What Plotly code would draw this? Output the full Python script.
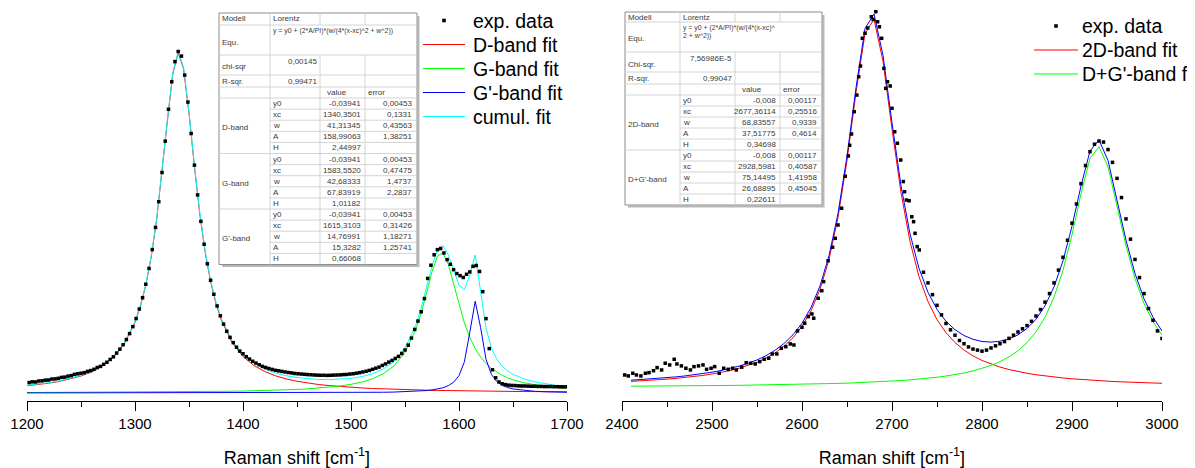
import plotly.graph_objects as go

# ---------------- data: left panel (D / G / G' region) ----------------
L_DATA_X = [1202,1205,1208,1211,1214,1217,1220,1223,1226,1229,1232,1235,1238,1241,1244,1247,1250,1253,1256,1259,
            1262,1265,1268,1271,1274,1277,1280,1283,1286,1289,1292,1295,1298,1301,1304,1307,1310,1313,1316,1319,
            1322,1325,1328,1331,1334,1337,1340,1343,1346,1349,1352,1355,1358,1361,1364,1367,1370,1373,1376,1379,
            1382,1385,1388,1391,1394,1397,1400,1403,1406,1409,1412,1415,1418,1421,1424,1427,1430,1433,1436,1439,
            1442,1445,1448,1451,1454,1457,1460,1463,1466,1469,1472,1475,1478,1481,1484,1487,1490,1493,1496,1499,
            1502,1505,1508,1511,1514,1517,1520,1523,1526,1529,1532,1535,1538,1541,1544,1547,1550,1553,1556,1559,
            1562,1565,1568,1571,1574,1577,1580,1583,1586,1589,1592,1595,1598,1601,1604,1607,1610,1613,1616,1619,
            1622,1625,1628,1631,1634,1637,1640,1643,1646,1649,1652,1655,1658,1661,1664,1667,1670,1673,1676,1679,
            1682,1685,1688,1691,1694,1697,1700]
L_DATA_Y = [0.036,0.041,0.040,0.047,0.048,0.053,0.054,0.061,0.062,0.066,0.073,0.075,0.082,0.086,0.095,0.099,0.103,0.107,0.116,0.122,
            0.131,0.144,0.152,0.167,0.182,0.202,0.221,0.248,0.276,0.308,0.345,0.388,0.438,0.496,0.565,0.646,0.743,0.857,0.993,1.152,
            1.337,1.547,1.773,2.002,2.200,2.345,2.418,2.385,2.248,2.054,1.828,1.600,1.386,1.196,1.031,0.890,0.772,0.671,0.587,0.516,
            0.456,0.405,0.361,0.323,0.290,0.262,0.243,0.222,0.205,0.189,0.176,0.164,0.152,0.144,0.137,0.130,0.124,0.120,0.116,0.112,
            0.108,0.105,0.101,0.099,0.097,0.095,0.093,0.092,0.090,0.089,0.088,0.088,0.087,0.088,0.089,0.090,0.091,0.093,0.094,0.097,
            0.099,0.103,0.107,0.112,0.117,0.123,0.131,0.139,0.147,0.159,0.170,0.183,0.195,0.209,0.224,0.245,0.270,0.305,0.356,0.418,
            0.478,0.545,0.640,0.785,0.880,0.955,0.992,1.000,0.968,0.920,0.887,0.848,0.820,0.805,0.792,0.815,0.832,0.872,0.878,0.835,
            0.690,0.496,0.280,0.128,0.070,0.040,0.027,0.021,0.017,0.015,0.014,0.012,0.011,0.011,0.010,0.009,0.009,0.008,0.008,0.007,
            0.007,0.007,0.006,0.006,0.005,0.005,0.005]

L_FIT_X = [1200,1210,1220,1230,1240,1250,1260,1270,1280,1290,1300,
           1305,1310,1315,1320,1325,1330,1335,1340,1345,1350,1355,1360,1365,1370,1375,1380,
           1390,1400,1410,1420,1430,1440,1450,1460,1470,1480,1490,1500,1510,1520,1530,1540,1550,1560,
           1565,1570,1575,1580,1585,1590,1595,1600,1605,1610,1615,1620,1625,1630,1635,1640,1645,1650,
           1660,1670,1680,1690,1700]
D_FIT = [0.0129,0.0210,0.0312,0.0439,0.0606,0.0827,0.1129,0.1554,0.2179,0.3139,0.4696,
         0.5845,0.7366,0.9386,1.2042,1.5394,1.9194,2.2570,2.4103,2.2928,1.9720,1.5910,1.2471,0.9717,0.7615,0.6033,0.4840,
         0.3225,0.2233,0.1591,0.1154,0.0845,0.0619,0.0450,0.0319,0.0216,0.0135,0.0068,0.0013,-0.0032,-0.0070,-0.0103,-0.0131,-0.0154,-0.0175,
         -0.0185,-0.0193,-0.0202,-0.0209,-0.0217,-0.0223,-0.0230,-0.0236,-0.0242,-0.0247,-0.0252,-0.0257,-0.0262,-0.0266,-0.0270,-0.0274,-0.0278,-0.0281,
         -0.0288,-0.0294,-0.0300,-0.0305,-0.0309]
G_FIT = [-0.0359,-0.0357,-0.0355,-0.0353,-0.0351,-0.0349,-0.0346,-0.0343,-0.0340,-0.0337,-0.0333,
         -0.0331,-0.0329,-0.0327,-0.0324,-0.0322,-0.0319,-0.0316,-0.0313,-0.0310,-0.0306,-0.0303,-0.0299,-0.0294,-0.0290,-0.0285,-0.0280,
         -0.0269,-0.0255,-0.0239,-0.0221,-0.0198,-0.0171,-0.0138,-0.0097,-0.0045,0.0022,0.0110,0.0230,0.0396,0.0636,0.0997,0.1569,0.2525,0.4173,
         0.5374,0.6822,0.8330,0.9457,0.9684,0.8883,0.7468,0.5958,0.4644,0.3600,0.2800,0.2193,0.1730,0.1374,0.1095,0.0875,0.0699,0.0556,
         0.0342,0.0191,0.0082,0.0001,-0.0061]
GP_FIT = [-0.0388,-0.0388,-0.0388,-0.0388,-0.0387,-0.0387,-0.0387,-0.0387,-0.0387,-0.0387,-0.0386,
          -0.0386,-0.0386,-0.0386,-0.0386,-0.0386,-0.0386,-0.0385,-0.0385,-0.0385,-0.0385,-0.0384,-0.0384,-0.0384,-0.0384,-0.0384,-0.0384,
          -0.0383,-0.0382,-0.0381,-0.0381,-0.0380,-0.0378,-0.0377,-0.0375,-0.0373,-0.0370,-0.0367,-0.0363,-0.0358,-0.0351,-0.0341,-0.0327,-0.0307,-0.0274,
          -0.0251,-0.0219,-0.0175,-0.0113,-0.0020,0.0129,0.0382,0.0858,0.1851,0.3967,0.6208,0.4321,0.2038,0.0943,0.0425,0.0153,-0.0005,-0.0103,
          -0.0214,-0.0272,-0.0305,-0.0326,-0.0340]
CUMUL_FIT = [0.0162,0.0245,0.0349,0.0478,0.0648,0.0871,0.1176,0.1604,0.2232,0.3195,0.4757,
             0.5908,0.7431,0.9454,1.2112,1.5467,1.9269,2.2649,2.4185,2.3013,1.9809,1.6003,1.2568,0.9819,0.7721,0.6144,0.4957,
             0.3354,0.2376,0.1751,0.1332,0.1048,0.0850,0.0715,0.0627,0.0578,0.0567,0.0591,0.0660,0.0786,0.0995,0.1333,0.1891,0.2845,0.4504,
             0.5718,0.7190,0.8733,0.9915,1.0228,0.9569,0.8400,0.7360,0.7033,0.8100,0.9536,0.7037,0.4286,0.2831,0.2030,0.1534,0.1196,0.0952,
             0.0620,0.0405,0.0257,0.0150,0.0070]

# ---------------- data: right panel (2D / D+G' region) ----------------
R_DATA_X = [2403,2407,2412,2416,2421,2426,2430,2435,2439,2444,2448,2453,2458,2461,2466,2471,2476,2480,2485,2490,
            2494,2499,2503,2508,2513,2518,2523,2527,2533,2538,2543,2548,2553,2558,2563,2567,2572,2577,2582,2587,
            2591,2595,2600,2603,2607,2611,2613,2618,2622,2624,2629,2634,2637,2640,2644,2648,2651.5,2653,2655,2658,
            2661,2663,2665,2667,2670,2673,2677,2679,2682,2684,2686,2688.5,2691,2693,2695,2698,2700,2703,2706,2709.7,
            2712.6,2714,2716,2719,2722,2724,2725.6,2728,2730.3,
            2735,2740,2745,2750,2755,2760,2765,2770,2775,2780,2785,2790,2795,2800,2805,2810,2815,2820,2825,2830,
            2835,2840,2845,2850,2855,2860,2865,2870,2875,2880,2885,2890,2895,2900,2905,2910,2915,2920,2925,2930,
            2935,2940,2945,2950,2955,2960,2965,2970,2975,2980,2985,2990,2995,3000]
R_DATA_Y = [0.0037,0.0028,0.0053,0.0037,0.0028,0.0053,0.0059,0.0077,0.0106,0.0084,0.0147,0.0131,0.0184,0.0140,0.0122,0.0100,0.0084,0.0115,0.0122,0.0131,
            0.0090,0.0100,0.0115,0.0053,0.0100,0.0090,0.0100,0.0084,0.0110,0.0152,0.0147,0.0140,0.0162,0.0184,0.0194,0.0234,0.0234,0.0287,0.0302,0.0328,
            0.0318,0.0450,0.0484,0.0522,0.0584,0.0609,0.0569,0.0756,0.0827,0.0912,0.1108,0.1234,0.1318,0.1443,0.1600,0.1900,0.2090,0.2190,0.2296,0.2505,
            0.2661,0.2833,0.2933,0.3193,0.3240,0.3290,0.3395,0.3370,0.3442,0.3348,0.3301,0.3193,0.2911,0.2724,0.2786,0.2746,0.2537,0.2317,0.2209,0.2052,
            0.1850,0.1755,0.1677,0.1670,0.1520,0.1474,0.1365,0.1240,0.1209,
            0.100,0.090,0.079,0.069,0.060,0.052,0.046,0.041,0.036,0.033,0.030,0.028,0.027,0.026,0.027,0.029,0.031,0.033,0.035,0.038,
            0.041,0.044,0.047,0.050,0.054,0.059,0.065,0.072,0.080,0.090,0.102,0.114,0.130,0.146,0.164,0.183,0.200,0.213,0.220,0.223,
            0.222,0.215,0.203,0.188,0.170,0.150,0.131,0.112,0.095,0.080,0.066,0.055,0.045,0.038]

R_FIT_X = [2410,2420,2430,2440,2450,2460,2470,2480,2490,2500,2510,2520,2530,2540,2550,2560,2570,2580,2590,2600,
           2610,2620,2630,2640,2650,2660,2670,2680,2690,2700,2710,2720,2730,2740,2750,2760,2770,2780,2790,2800,
           2810,2820,2830,2840,2850,2860,2870,2880,2890,2900,2910,2920,2930,2940,2950,2960,2970,2980,2990,3000]
FIT_2D = [-0.0023,-0.0019,-0.0014,-0.0009,-0.0002,0.0005,0.0013,0.0022,0.0033,0.0046,0.0061,0.0078,0.0100,0.0125,0.0156,0.0195,0.0243,0.0306,0.0386,0.0493,
          0.0638,0.0839,0.1119,0.1513,0.2047,0.2686,0.3238,0.3370,0.2978,0.2342,0.1747,0.1289,0.0959,0.0725,0.0556,0.0433,0.0341,0.0271,0.0216,0.0173,
          0.0139,0.0111,0.0088,0.0069,0.0053,0.0039,0.0027,0.0017,0.0009,0.0001,-0.0006,-0.0012,-0.0017,-0.0021,-0.0026,-0.0029,-0.0033,-0.0036,-0.0038,-0.0041]
FIT_DGP = [-0.0068,-0.0068,-0.0067,-0.0067,-0.0066,-0.0066,-0.0065,-0.0064,-0.0064,-0.0063,-0.0062,-0.0061,-0.0060,-0.0059,-0.0058,-0.0057,-0.0056,-0.0054,-0.0053,-0.0051,
           -0.0049,-0.0047,-0.0045,-0.0042,-0.0040,-0.0037,-0.0033,-0.0030,-0.0025,-0.0021,-0.0015,-0.0009,-0.0002,0.0006,0.0016,0.0027,0.0040,0.0056,0.0075,0.0098,
           0.0126,0.0162,0.0207,0.0264,0.0340,0.0441,0.0578,0.0765,0.1019,0.1351,0.1735,0.2068,0.2177,0.1989,0.1626,0.1250,0.0941,0.0707,0.0536,0.0410]
FIT_R_CUMUL = [-0.0012,-0.0007,-0.0001,0.0004,0.0012,0.0019,0.0028,0.0038,0.0050,0.0063,0.0079,0.0097,0.0120,0.0146,0.0178,0.0218,0.0268,0.0332,0.0414,0.0522,
               0.0669,0.0872,0.1154,0.1551,0.2087,0.2729,0.3285,0.3421,0.3033,0.2401,0.1812,0.1360,0.1037,0.0811,0.0652,0.0540,0.0461,0.0407,0.0371,0.0351,
               0.0345,0.0353,0.0375,0.0413,0.0473,0.0560,0.0685,0.0862,0.1108,0.1432,0.1809,0.2137,0.2240,0.2048,0.1680,0.1301,0.0988,0.0751,0.0578,0.0449]

# ---------------- legends and fit tables (text) ----------------
L_LEGEND = ["exp. data", "D-band fit", "G-band fit", "G'-band fit", "cumul. fit"]
R_LEGEND = ["exp. data", "2D-band fit", "D+G'-band fit"]
X_TITLE = "Raman shift [cm<sup>-1</sup>]"

PARAM_NAMES = ["y0", "xc", "w", "A", "H"]
L_GROUPS = ["D-band", "G-band", "G'-band"]
L_VALUES = ["-0,03941", "1340,3501", "41,31345", "158,99063", "2,44997",
            "-0,03941", "1583,5520", "42,68333", "67,83919", "1,01182",
            "-0,03941", "1615,3103", "14,76991", "15,3282", "0,66068"]
L_ERRORS = ["0,00453", "0,1331", "0,43563", "1,38251", "",
            "0,00453", "0,47475", "1,4737", "2,2837", "",
            "0,00453", "0,31426", "1,18271", "1,25741", ""]
L_EQUATION = ["y = y0 + (2*A/PI)*(w/(4*(x-xc)^2 + w^2))"]
L_STATS = [("chi-sqr", "0,00145"), ("R-sqr.", "0,99471")]

R_GROUPS = ["2D-band", "D+G'-band"]
R_VALUES = ["-0,008", "2677,36114", "68,83557", "37,51775", "0,34698",
            "-0,008", "2928,5981", "75,14495", "26,68895", "0,22611"]
R_ERRORS = ["0,00117", "0,25516", "0,9339", "0,4614", "",
            "0,00117", "0,40587", "1,41958", "0,45045", ""]
R_EQUATION = ["y = y0 + (2*A/PI)*(w/(4*(x-xc)^", "2 + w^2))"]
R_STATS = [("Chi-sqr.", "7,56986E-5"), ("R-sqr.", "0,99047")]

for a, b in [(L_DATA_X, L_DATA_Y), (R_DATA_X, R_DATA_Y)]:
    assert len(a) == len(b), (len(a), len(b))
for s in (D_FIT, G_FIT, GP_FIT, CUMUL_FIT):
    assert len(s) == len(L_FIT_X), len(s)
for s in (FIT_2D, FIT_DGP, FIT_R_CUMUL):
    assert len(s) == len(R_FIT_X), len(s)

# ---------------- figure geometry ----------------
# the page body has an 8px margin, so the figure is drawn 8px in from the window's corner
OFF = 8
W, H = 1195 - OFF, 468 - OFF
AXIS_Y = 401              # window pixel row of the x axis line
MB = H - (AXIS_Y - OFF)   # bottom margin
PH = H - MB               # plot-area height
FONT = "Liberation Sans, Arial, sans-serif"


def px(x):
    """window pixel column -> paper x"""
    return (x - OFF) / W


def py(y):
    """window pixel row -> paper y"""
    return (AXIS_Y - y) / PH


fig = go.Figure()

L_COLORS = ["#ff0000", "#00ff00", "#0000ff", "#00ffff"]
R_COLORS = ["#ff0000", "#00ff00", "#0000ff"]

# left panel
for name, ys, col in zip(L_LEGEND[1:], [D_FIT, G_FIT, GP_FIT, CUMUL_FIT], L_COLORS):
    fig.add_trace(go.Scatter(x=L_FIT_X, y=ys, mode="lines", name=name, line=dict(color=col, width=1),
                             xaxis="x", yaxis="y"))
fig.add_trace(go.Scatter(x=L_DATA_X, y=L_DATA_Y, mode="markers", name=L_LEGEND[0],
                         marker=dict(symbol="square", size=3.5, color="black", line=dict(width=0)),
                         xaxis="x", yaxis="y"))
# right panel
for name, ys, col in zip(R_LEGEND[1:] + ["cumul. fit"], [FIT_2D, FIT_DGP, FIT_R_CUMUL], R_COLORS):
    fig.add_trace(go.Scatter(x=R_FIT_X, y=ys, mode="lines", name=name, line=dict(color=col, width=1),
                             xaxis="x2", yaxis="y2"))
fig.add_trace(go.Scatter(x=R_DATA_X, y=R_DATA_Y, mode="markers", name=R_LEGEND[0],
                         marker=dict(symbol="square", size=3.5, color="black", line=dict(width=0)),
                         xaxis="x2", yaxis="y2"))


def add_line(x0, y0, x1, y1, color="#d4d4d4", width=1):
    fig.add_shape(type="line", xref="paper", yref="paper", x0=px(x0), y0=py(y0), x1=px(x1), y1=py(y1),
                  line=dict(color=color, width=width), layer="above")


def add_text(x, y, text, anchor="left", size=8, color="#3a3a3a"):
    fig.add_annotation(x=px(x), y=py(y), xref="paper", yref="paper", text=text, showarrow=False,
                       xanchor=anchor, yanchor="middle", borderpad=0,
                       font=dict(family=FONT, size=size, color=color))


def add_legend(x_line0, x_line1, x_text, y_rows, names, colors):
    xm = (x_line0 + x_line1) / 2
    # data marker (small square)
    fig.add_shape(type="rect", xref="paper", yref="paper",
                  x0=px(xm - 1.8), x1=px(xm + 1.8), y0=py(y_rows[0] + 1.8), y1=py(y_rows[0] - 1.8),
                  fillcolor="black", line=dict(width=0), layer="above")
    for y, col in zip(y_rows[1:], colors):
        add_line(x_line0, y, x_line1, y, col, 1)
    for y, name in zip(y_rows, names):
        add_text(x_text, y, name, "left", 19.5, "black")


def add_table(cols, ytop, ymod, yequ, ychi, yr, yhead, rh, equation, stats, groups, values, errors):
    x0, x1, x2, x3, x4 = cols
    nrows = len(values)
    ybot = yhead + nrows * rh
    # shadow + box
    add_line(x4 + 1.5, ytop + 3, x4 + 1.5, ybot + 1.5, "#b8b8b8", 2)
    add_line(x0 + 3, ybot + 1.5, x4 + 2.5, ybot + 1.5, "#b8b8b8", 2)
    fig.add_shape(type="rect", xref="paper", yref="paper", x0=px(x0), x1=px(x4), y0=py(ybot), y1=py(ytop),
                  fillcolor="white", line=dict(color="#8c8c8c", width=1), layer="above")
    for y in (ymod, yequ, ychi, yr, yhead):
        add_line(x0, y, x4, y)
    for k in range(1, nrows):
        if k % 5 == 0:
            add_line(x0, yhead + k * rh, x4, yhead + k * rh)
        else:
            add_line(x1, yhead + k * rh, x4, yhead + k * rh)
    add_line(x1, ytop, x1, ybot)
    for xv in (x2, x3):
        add_line(xv, ytop, xv, ymod)
        add_line(xv, yequ, xv, ybot)
    # texts
    add_text(x0 + 2, (ytop + ymod) / 2, "Modell")
    add_text(x1 + 2, (ytop + ymod) / 2, "Lorentz")
    add_text(x0 + 2, (ymod + yequ) / 2 + 2, "Equ.")
    for i, ln in enumerate(equation):
        add_text(x1 + 2, ymod + 6 + i * 8, ln, size=6.9)
    add_text(x0 + 2, (yequ + ychi) / 2 + 2, stats[0][0])
    add_text(x2 - 2, yequ + 6, stats[0][1], "right")
    add_text(x0 + 2, (ychi + yr) / 2, stats[1][0])
    add_text(x2 - 2, (ychi + yr) / 2, stats[1][1], "right")
    add_text(x2 + 6, (yr + yhead) / 2, "value")
    add_text(x3 + 2, (yr + yhead) / 2, "error")
    for k in range(nrows):
        yc = yhead + (k + 0.5) * rh
        add_text(x1 + 2, yc, PARAM_NAMES[k % 5])
        add_text(x3 - 3, yc, values[k], "right")
        if errors[k]:
            add_text(x4 - 4, yc, errors[k], "right")
    for g, name in enumerate(groups):
        add_text(x0 + 2, yhead + (g * 5 + 2.5) * rh + 2, name)


add_table((219, 270, 320, 365, 417), 13, 25, 55, 75, 87, 98, 11.1,
          L_EQUATION, L_STATS, L_GROUPS, L_VALUES, L_ERRORS)
add_table((625, 680, 735, 780, 822), 12, 22, 52, 72, 84, 95, 11.0,
          R_EQUATION, R_STATS, R_GROUPS, R_VALUES, R_ERRORS)

add_legend(423, 465, 472, [20.5, 44.5, 68.5, 92.5, 116.5], L_LEGEND, L_COLORS)
add_legend(1034, 1078, 1081, [26, 50, 74], R_LEGEND, R_COLORS[:2])

xaxis_common = dict(
    showline=True, linecolor="black", linewidth=1, mirror=False,
    showgrid=False, zeroline=False,
    ticks="outside", ticklen=9, tickwidth=1, tickcolor="black",
    tickfont=dict(family=FONT, size=15, color="black"),
    tickmode="linear", dtick=100,
    minor=dict(ticks="outside", ticklen=5, tickwidth=1, tickcolor="black", dtick=50, showgrid=False),
    title=dict(text=X_TITLE, font=dict(family=FONT, size=18, color="black"), standoff=21),
)

fig.update_layout(
    width=W, height=H,
    margin=dict(l=0, r=0, t=0, b=MB, autoexpand=False),
    paper_bgcolor="white", plot_bgcolor="white",
    font=dict(family=FONT),
    showlegend=False,
    xaxis=dict(domain=[px(27), px(567)], range=[1200, 1700], tick0=1200, anchor="y", **xaxis_common),
    yaxis=dict(domain=[0, 1], range=[-0.097, 2.731], visible=False, anchor="x"),
    xaxis2=dict(domain=[px(622), px(1162)], range=[2400, 3000], tick0=2400, anchor="y2", **xaxis_common),
    yaxis2=dict(domain=[0, 1], range=[-0.0207, 0.3477], visible=False, anchor="x2"),
)

fig.write_html("out.html")
